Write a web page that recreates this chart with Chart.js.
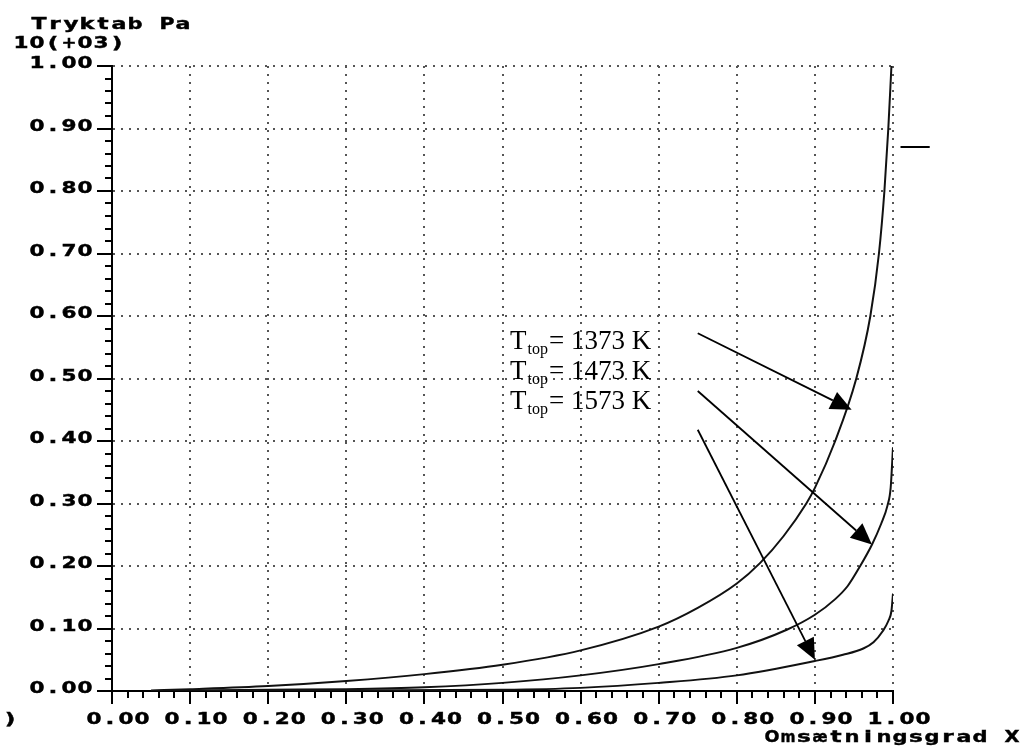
<!DOCTYPE html>
<html>
<head>
<meta charset="utf-8">
<script src="https://cdn.jsdelivr.net/npm/chart.js@4.4.1/dist/chart.umd.min.js"></script>
<style>
    html, body { margin: 0; padding: 0; background: #fff; }
    #wrap { width: 1021px; height: 746px; }
</style>
</head>
<body>
<div id="wrap"><canvas id="chart" width="1021" height="746"></canvas></div>
<script>
// 刻度标签
const tickLabels = ['0.00', '0.10', '0.20', '0.30', '0.40', '0.50', '0.60', '0.70', '0.80', '0.90', '1.00'];
const minorStep = 0.02;

// 三条曲线: 转化率 X / 压降 (10^3 Pa)
const temps = ['1373', '1473', '1573'];

const conv1373 = [0.05, 0.10, 0.20, 0.30, 0.40, 0.50, 0.60, 0.70, 0.75, 0.80, 0.83, 0.86, 0.889, 0.90, 0.926, 0.953, 0.971, 0.982, 0.989, 0.994, 0.998];
const dp1373   = [0.001, 0.003, 0.008, 0.016, 0.027, 0.042, 0.065, 0.103, 0.133, 0.172, 0.205, 0.248, 0.300, 0.325, 0.400, 0.500, 0.600, 0.700, 0.800, 0.900, 1.000];

const conv1473 = [0.05, 0.20, 0.30, 0.40, 0.50, 0.60, 0.70, 0.80, 0.864, 0.90, 0.926, 0.942, 0.958, 0.973, 0.985, 0.993, 0.997, 1.0];
const dp1473   = [0.000, 0.002, 0.003, 0.006, 0.013, 0.025, 0.043, 0.069, 0.098, 0.122, 0.147, 0.168, 0.200, 0.234, 0.268, 0.297, 0.325, 0.390];

const conv1573 = [0.05, 0.30, 0.50, 0.60, 0.70, 0.80, 0.90, 0.936, 0.962, 0.975, 0.987, 0.994, 0.998, 1.0];
const dp1573   = [0.000, 0.001, 0.002, 0.005, 0.013, 0.025, 0.048, 0.058, 0.068, 0.078, 0.096, 0.112, 0.128, 0.156];

// 注释位置 (数据坐标)
const noteAnchor = { x: 0.5096, y: [0.5476, 0.4988, 0.4508] };
const arrows = [
    { from: [0.750, 0.5725], to: [0.947, 0.450] },
    { from: [0.750, 0.480],  to: [0.973, 0.2346] },
    { from: [0.750, 0.418],  to: [0.900, 0.050] }
];
const strayDash = { x1: 1.0096, x2: 1.047, y: 0.871 };

// 点阵风格字体: 每个字符占固定宽度
const CELL = 16;
const SX = 1.55;
const GLYPH_FONT = 'bold 15px "DejaVu Sans"';

function toPoints(xs, ys) {
    return xs.map((x, i) => ({ x: x, y: ys[i] }));
}

function cellText(ctx, str, x, y, align) {
    const chars = Array.from(str);
    const total = chars.length * CELL;
    let left = x;
    if (align === 'right') left = x - total;
    else if (align === 'center') left = x - total / 2;
    ctx.save();
    ctx.font = GLYPH_FONT;
    ctx.textAlign = 'center';
    ctx.textBaseline = 'alphabetic';
    ctx.fillStyle = '#000';
    ctx.strokeStyle = '#000';
    ctx.lineWidth = 0.4;
    chars.forEach((c, i) => {
        if (c === ' ') return;
        const w = ctx.measureText(c).width;
        const s = Math.min(SX, (CELL - 1) / w);
        ctx.save();
        ctx.translate(left + i * CELL + CELL / 2, y);
        ctx.scale(s, 1);
        ctx.fillText(c, 0, 0);
        ctx.strokeText(c, 0, 0);
        ctx.restore();
    });
    ctx.restore();
}

function drawArrow(ctx, x1, y1, x2, y2) {
    const ang = Math.atan2(y2 - y1, x2 - x1);
    const L = 21, W = 9.5;
    const bx = x2 - L * Math.cos(ang);
    const by = y2 - L * Math.sin(ang);
    ctx.beginPath();
    ctx.moveTo(x1, y1);
    ctx.lineTo(bx, by);
    ctx.stroke();
    ctx.beginPath();
    ctx.moveTo(x2, y2);
    ctx.lineTo(bx + W * Math.sin(ang), by - W * Math.cos(ang));
    ctx.lineTo(bx - W * Math.sin(ang), by + W * Math.cos(ang));
    ctx.closePath();
    ctx.fill();
}

const decorPlugin = {
    id: 'decor',
    afterDraw(chart) {
        const { ctx, chartArea } = chart;
        const xs = chart.scales.x, ys = chart.scales.y;

        // 次刻度
        ctx.save();
        ctx.strokeStyle = '#000';
        ctx.lineWidth = 2;
        const n = Math.round(1 / minorStep);
        for (let i = 0; i <= n; i++) {
            if (i % 5 === 0) continue;
            const v = i * minorStep;
            const px = Math.round(xs.getPixelForValue(v));
            ctx.beginPath();
            ctx.moveTo(px, chartArea.bottom);
            ctx.lineTo(px, chartArea.bottom + 7);
            ctx.stroke();
            const py = Math.round(ys.getPixelForValue(v));
            ctx.beginPath();
            ctx.moveTo(chartArea.left - 7, py);
            ctx.lineTo(chartArea.left, py);
            ctx.stroke();
        }
        ctx.restore();

        // 刻度标签
        xs.ticks.forEach((t, i) => {
            const label = tickLabels[i] || t.value.toFixed(2);
            cellText(ctx, label, xs.getPixelForValue(t.value) + 6, 724, 'center');
        });
        ys.ticks.forEach((t, i) => {
            const label = tickLabels[i] || t.value.toFixed(2);
            cellText(ctx, label, chartArea.left - 19, ys.getPixelForValue(t.value) + 2, 'right');
        });

        // 轴标题
        cellText(ctx, 'Tryktab Pa', 31, 29, 'left');
        cellText(ctx, '10(+03)', 13, 48, 'left');
        cellText(ctx, 'Omsætningsgrad X', 764, 742, 'left');
        cellText(ctx, ')', 2, 724, 'left');

        // 温度注释
        ctx.save();
        ctx.fillStyle = '#000';
        ctx.textAlign = 'left';
        ctx.textBaseline = 'alphabetic';
        const lx = xs.getPixelForValue(noteAnchor.x);
        temps.forEach((t, i) => {
            const by = ys.getPixelForValue(noteAnchor.y[i]);
            ctx.font = '27px "Liberation Serif"';
            ctx.fillText('T', lx, by);
            const tw = ctx.measureText('T').width;
            ctx.font = '16px "Liberation Serif"';
            ctx.fillText('top', lx + tw + 1, by + 5);
            const sw = ctx.measureText('top').width;
            ctx.font = '27px "Liberation Serif"';
            ctx.fillText('= ' + t + ' K', lx + tw + sw + 2, by);
        });

        // 箭头
        ctx.strokeStyle = '#000';
        ctx.lineWidth = 1.8;
        arrows.forEach(a => {
            drawArrow(ctx,
                xs.getPixelForValue(a.from[0]), ys.getPixelForValue(a.from[1]),
                xs.getPixelForValue(a.to[0]), ys.getPixelForValue(a.to[1]));
        });

        // 右侧短线
        ctx.lineWidth = 2;
        const sy = Math.round(ys.getPixelForValue(strayDash.y));
        ctx.beginPath();
        ctx.moveTo(xs.getPixelForValue(strayDash.x1), sy);
        ctx.lineTo(xs.getPixelForValue(strayDash.x2), sy);
        ctx.stroke();
        ctx.restore();
    }
};

function lineSet(label, xs, ys) {
    return {
        label: label,
        data: toPoints(xs, ys),
        borderColor: '#111',
        borderWidth: 2,
        pointRadius: 0,
        fill: false,
        cubicInterpolationMode: 'monotone'
    };
}

const ctx = document.getElementById('chart').getContext('2d');
new Chart(ctx, {
    type: 'line',
    data: {
        datasets: [
            lineSet('T_top = 1373 K', conv1373, dp1373),
            lineSet('T_top = 1473 K', conv1473, dp1473),
            lineSet('T_top = 1573 K', conv1573, dp1573)
        ]
    },
    options: {
        responsive: false,
        animation: false,
        layout: { padding: { top: 66, right: 128, left: 0, bottom: 0 } },
        plugins: {
            legend: { display: false },
            title: { display: false },
            tooltip: { enabled: false }
        },
        scales: {
            x: {
                type: 'linear',
                min: 0,
                max: 1,
                ticks: { stepSize: 0.1, display: false },
                grid: {
                    color: '#555',
                    lineWidth: 2,
                    tickLength: 13,
                    tickColor: '#000',
                    tickWidth: 2
                },
                border: { display: true, color: '#000', width: 2, dash: [2, 6] },
                afterFit(scale) { scale.height = 55; }
            },
            y: {
                type: 'linear',
                min: 0,
                max: 1,
                ticks: { stepSize: 0.1, display: false },
                grid: {
                    color: '#555',
                    lineWidth: 2,
                    tickLength: 15,
                    tickColor: '#000',
                    tickWidth: 2
                },
                border: { display: true, color: '#000', width: 2, dash: [2, 6] },
                afterFit(scale) { scale.width = 112; }
            }
        }
    },
    plugins: [decorPlugin]
});
</script>
</body>
</html>
